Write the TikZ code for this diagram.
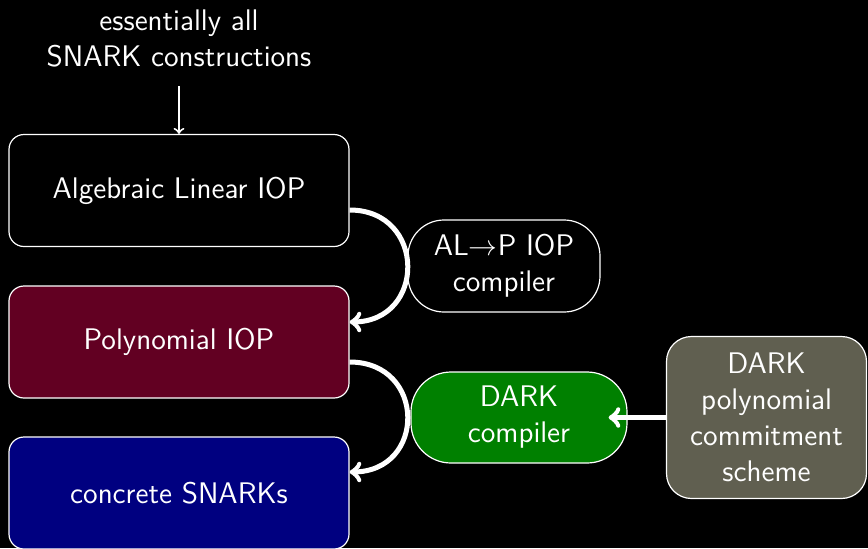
\documentclass[tikz,border=0pt]{standalone}
\usepackage{fontspec}
\renewcommand{\familydefault}{\sfdefault}
\definecolor{iopred}{RGB}{98,0,34}
\definecolor{snarkblue}{RGB}{0,0,128}
\definecolor{compgreen}{RGB}{0,128,0}
\definecolor{pcsgray}{RGB}{96,95,80}

\begin{document}
\begin{tikzpicture}[x=0.5pt,y=-0.5pt,
  every node/.style={font=\sffamily\fontsize{14.9}{18}\selectfont, text=white, align=center},
  layer/.style={draw=white, line width=0.6pt, rounded corners=7.5pt,
    minimum width=170pt, minimum height=56pt, inner sep=0pt},
  pill/.style={draw=white, line width=0.6pt, inner sep=0pt},
  flow/.style={draw=white, line width=2.5pt, ->},
  thinflow/.style={draw=white, line width=1pt, ->}]

% background
\fill[black] (0,0) rectangle (868,548);
\useasboundingbox (0,0) rectangle (868,548);

% caption above the stack
\node (src) at (179,38) {essentially all\\SNARK constructions};
\coordinate (srcfoot) at (179,86);

% the three layers
\node[layer, fill=black]     (alg)  at (179,190.5) {Algebraic Linear IOP};
\node[layer, fill=iopred]    (poly) at (179,342)   {Polynomial IOP};
\node[layer, fill=snarkblue] (snk)  at (179,493)   {concrete SNARKs};

% compilers
\node[pill, fill=black, rounded corners=18pt, minimum width=96pt, minimum height=46pt]
  (alp) at (504,266) {AL$\rightarrow$P IOP\\compiler};
\node[pill, fill=compgreen, rounded corners=20pt, minimum width=108pt, minimum height=45.5pt]
  (dark) at (519,417.5) {DARK\\compiler};
\node[pill, fill=pcsgray, rounded corners=12.5pt, minimum width=100pt, minimum height=81pt]
  (pcs) at (766.5,417.5) {DARK\\polynomial\\commitment\\scheme};

% connectors
\draw[thinflow] (srcfoot) -- (alg.north);
\draw[flow] ([yshift=-9.75pt]alg.east) .. controls +(77,0) and +(77,0) .. ([yshift=10pt]poly.east);
\draw[flow] ([yshift=-10pt]poly.east) .. controls +(77,0) and +(77,0) .. ([yshift=10.5pt]snk.east);
\draw[flow] (pcs.west) -- ([xshift=-9.5pt]dark.east);
\end{tikzpicture}
\end{document}
